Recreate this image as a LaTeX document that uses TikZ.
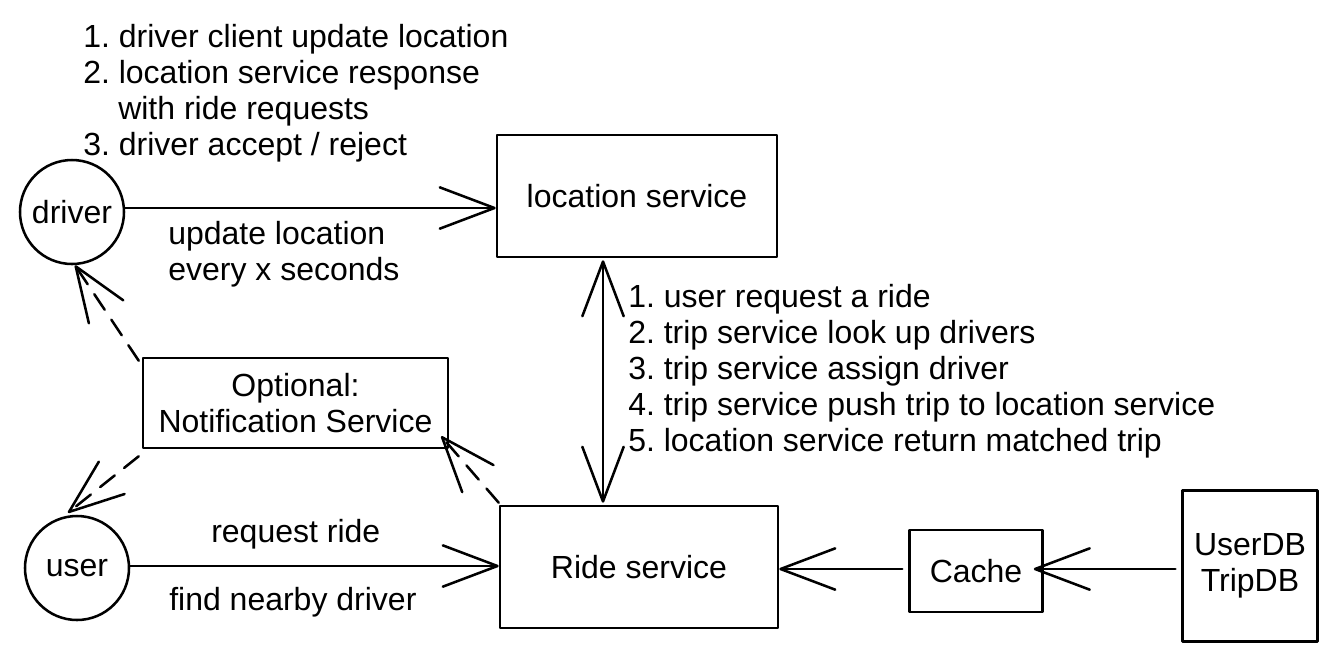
\documentclass[tikz,border=0pt]{standalone}
\usepackage{fontspec}
\setmainfont{Liberation Sans}
\usetikzlibrary{arrows.meta,calc}
\begin{document}
\frenchspacing
\begin{tikzpicture}[x=0.75pt,y=-0.75pt,
  font=\fontsize{24}{27}\selectfont\frenchspacing,
  line width=1.9pt, line cap=round, line join=round,
  >={Straight Barb[length=41pt,width=31pt,round]},
  box/.style={draw, rectangle, inner sep=0pt, align=center},
  actor/.style={draw, circle, minimum size=78pt, inner sep=0pt},
  lbl/.style={anchor=base west, inner sep=0pt},
  dashline/.style={dash pattern=on 14pt off 9pt}]
\useasboundingbox (0,0) rectangle (1335,658);

% nodes
\node[actor] (driver) at (72,212) {driver};
\node[actor] (user) at (77,568) {user};
\node[box, minimum width=210pt, minimum height=91.5pt] (loc) at (637,196) {location service};
\node[box, minimum width=208.5pt, minimum height=91.5pt] (ride) at (639,567) {Ride service};
\node[box, minimum width=228.75pt, minimum height=67.5pt] (notif) at (295.5,403) {Optional:\\Notification Service};
\node[box, minimum width=99.75pt, minimum height=61.5pt] (cache) at (976,571) {Cache};
\node[box, minimum width=101pt, minimum height=113pt] (db) at (1250,566) {UserDB\\TripDB};

% texts
\node[lbl] (t1) at (82,47) {1. driver client update location};
\node[lbl] (t2) at (82,83) {2. location service response};
\node[lbl] (t3) at (117,119) {with ride requests};
\node[lbl] (t4) at (82,155) {3. driver accept / reject};

\node[lbl] (u1) at (167,244) {update location};
\node[lbl] (u2) at (167,280) {every x seconds};

\node[lbl] (r1) at (210,542) {request ride};
\node[lbl] (r2) at (168,610) {find nearby driver};

\node[lbl] (m1) at (627,307) {1. user request a ride};
\node[lbl] (m2) at (627,343) {2. trip service look up drivers};
\node[lbl] (m3) at (627,379) {3. trip service assign driver};
\node[lbl] (m4) at (627,415) {4. trip service push trip to location service};
\node[lbl] (m5) at (627,451) {5. location service return matched trip};

% connectors
\draw[->] (driver.east |- 0,208) -- (loc.west |- 0,208);
\draw[->] (user.east |- 0,566) -- (ride.west |- 0,566);
\draw[<->] ($(loc.south)+(-34,2)$) -- ($(ride.north)+(-36,-2)$);
\draw[->] ($(cache.west)+(-6,-2)$) -- (ride.east |- 0,569);
\draw[->] ($(db.west)+(-6,3)$) -- ($(cache.east |- 0,569)+(-10,0)$);
\draw[->, dashline] ($(notif.north west)+(-3,4)$) -- ($(driver.south)+(3,0)$);
\draw[->, dashline] ($(notif.south west)+(-3,7)$) -- ($(user.north)+(-9,-2)$);
\draw[->, dashline] ($(ride.north west)+(0,-2)$) -- ($(notif.south east)+(-8,-13)$);
\end{tikzpicture}
\end{document}
